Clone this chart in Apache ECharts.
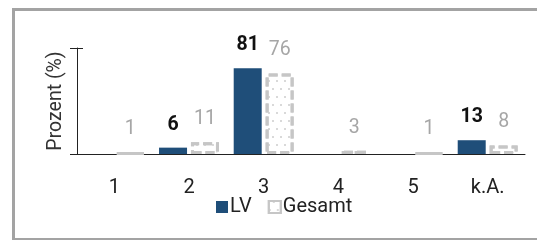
<!DOCTYPE html>
<html>
<head>
<meta charset="utf-8">
<script src="https://cdn.jsdelivr.net/npm/echarts@6/dist/echarts.min.js"></script>
<style>
  html, body { margin: 0; padding: 0; background: #fff; overflow: hidden; }
  #frame {
    position: absolute; left: 12px; top: 8px; width: 560px; height: 227px;
    border: 3px solid #a3a3a3;
  }
  #chart { position: absolute; left: 0; top: 0; width: 537px; height: 240px; }
</style>
</head>
<body>
<div id="frame"></div>
<div id="chart"></div>
<script>
const categories = ["1", "2", "3", "4", "5", "k.A."];
const lvValues = [0, 6, 81, 0, 0, 13];
const gesamtValues = [1, 11, 76, 3, 1, 8];
const yTicks = [0, 100];

const chart = echarts.init(document.getElementById("chart"));
const font = "Roboto, 'DejaVu Sans', sans-serif";

chart.setOption({
  animation: false,
  textStyle: { fontFamily: font },
  grid: { left: 77, right: 12, top: 48, bottom: 86 },
  legend: {
    left: 211,
    top: 192,
    icon: "rect",
    itemWidth: 12,
    itemHeight: 12,
    itemGap: 16,
    textStyle: { fontSize: 20, color: "#222", padding: [0, 0, 0, -3] },
    data: ["LV", "Gesamt"],
  },
  xAxis: {
    type: "category",
    data: categories,
    axisLine: { lineStyle: { color: "#222", width: 1 } },
    axisTick: { length: 6, lineStyle: { color: "#222" } },
    axisLabel: { fontSize: 20, color: "#222", margin: 24 },
  },
  yAxis: [
    {
      type: "value",
      min: yTicks[0],
      max: yTicks[1],
      interval: yTicks[1] - yTicks[0],
      name: "Prozent (%)",
      nameLocation: "middle",
      nameGap: 11,
      nameTextStyle: { fontSize: 19.5, color: "#333" },
      axisLine: { show: true, lineStyle: { color: "#222" } },
      axisTick: { show: true, length: 7, lineStyle: { color: "#222" } },
      axisLabel: { show: false },
      splitLine: { show: false },
    },
    {
      // only draws the inner half of the y ticks
      type: "value",
      position: "left",
      min: yTicks[0],
      max: yTicks[1],
      interval: yTicks[1] - yTicks[0],
      axisLine: { show: false },
      axisTick: { show: true, inside: true, length: 6, lineStyle: { color: "#222" } },
      axisLabel: { show: false },
      splitLine: { show: false },
    },
  ],
  series: [
    {
      name: "LV",
      type: "bar",
      data: lvValues,
      barWidth: "37.5%",
      barGap: "14%",
      itemStyle: { color: "#1f4e79" },
      label: {
        show: true,
        position: "top",
        distance: 13,
        fontSize: 19.5,
        fontWeight: "bold",
        color: "#111",
        formatter: (p) => (p.value ? p.value : ""),
      },
    },
    {
      name: "Gesamt",
      type: "bar",
      data: gesamtValues,
      barWidth: "37.5%",
      itemStyle: {
        color: "#ffffff",
        borderColor: "#c6c6c6",
        borderWidth: 3,
        borderType: [9, 4],
        decal: {
          symbol: "circle",
          symbolSize: 1,
          color: "#cccccc",
          dashArrayX: [[2, 6], [0, 4, 2, 2]],
          dashArrayY: [2, 6],
        },
      },
      label: {
        show: true,
        position: "top",
        distance: 13,
        fontSize: 19.5,
        color: "#a6a6a6",
      },
    },
  ],
});
</script>
</body>
</html>
